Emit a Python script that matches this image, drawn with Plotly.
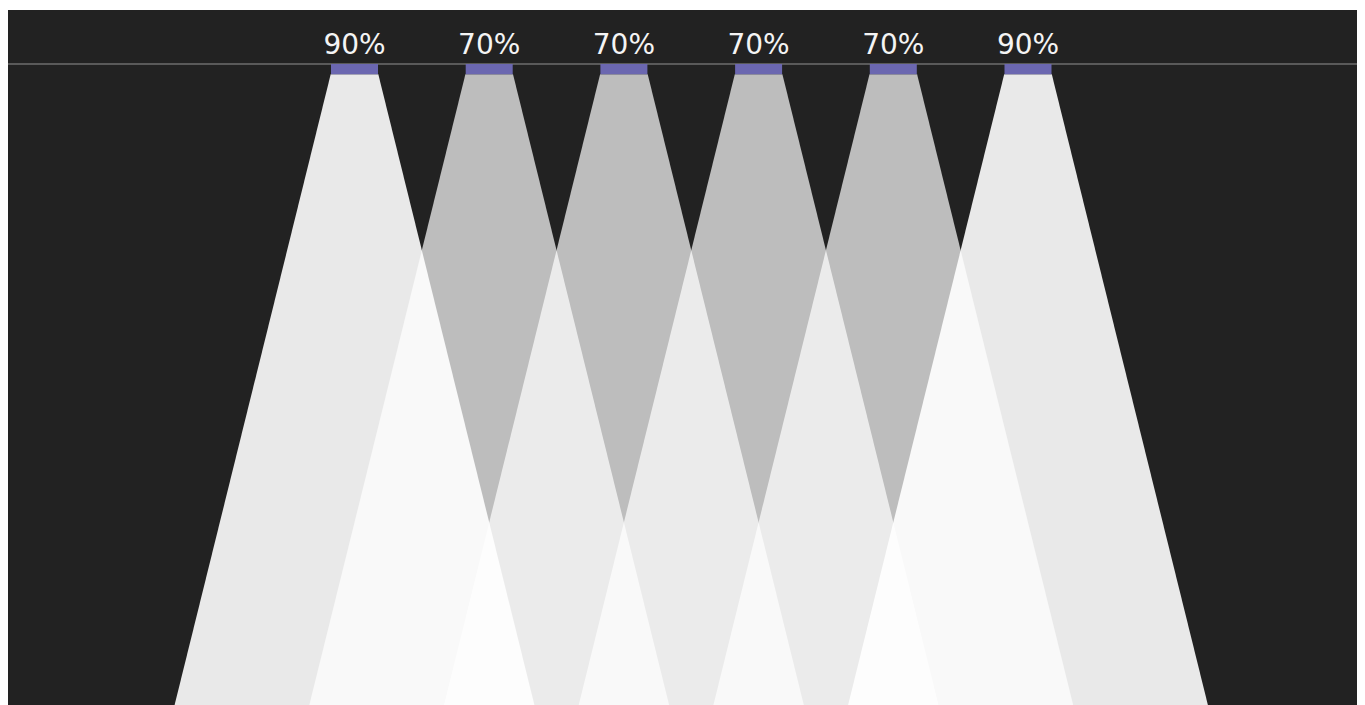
import plotly.graph_objects as go

# ---- data ----
lamp_labels = ["90%", "70%", "70%", "70%", "70%", "90%"]
lamp_efficiency = [0.9, 0.7, 0.7, 0.7, 0.7, 0.9]
lamp_positions = [1, 2, 3, 4, 5, 6]

# ---- geometry / style constants ----
W, H = 1400, 740
TOP_GAP = 2                # white strip above the dark area
PX = 134.7                 # pixels per unit (lamp spacing)
CEIL_PX = 54               # ceiling line distance from plot-area top (px)
PH = H - TOP_GAP
X0 = lamp_positions[0] - 346.5 / PX
X1 = X0 + W / PX
Y1 = CEIL_PX / PX
Y0 = -(PH - CEIL_PX) / PX
LAMP_H = 10.3 / PX
LAMP_HW = 23.5 / PX
CONE_HW = 23.8 / PX
SLOPE = 0.2475
FLOOR = Y0 - 0.5
LABEL_Y = 17.5 / PX

BG = "#222222"
LAMP_COLOR = "#6b67b0"
LINE_COLOR = "#5a5a5a"

fig = go.Figure()

# light cones
for x, eff in zip(lamp_positions, lamp_efficiency):
    top = -LAMP_H
    depth = top - FLOOR
    xs = [x - CONE_HW, x + CONE_HW, x + CONE_HW + SLOPE * depth, x - CONE_HW - SLOPE * depth, x - CONE_HW]
    ys = [top, top, FLOOR, FLOOR, top]
    fig.add_trace(go.Scatter(x=xs, y=ys, mode="lines", fill="toself",
                             fillcolor=f"rgba(255,255,255,{eff})",
                             line=dict(width=0), hoverinfo="skip", showlegend=False))

# ceiling line
fig.add_trace(go.Scatter(x=[X0, X1], y=[0, 0], mode="lines",
                         line=dict(color=LINE_COLOR, width=2),
                         hoverinfo="skip", showlegend=False))

# lamps
for x in lamp_positions:
    fig.add_trace(go.Scatter(x=[x - LAMP_HW, x + LAMP_HW, x + LAMP_HW, x - LAMP_HW, x - LAMP_HW],
                             y=[0, 0, -LAMP_H, -LAMP_H, 0], mode="lines", fill="toself",
                             fillcolor=LAMP_COLOR, line=dict(width=0),
                             hoverinfo="skip", showlegend=False))

# labels
fig.add_trace(go.Scatter(x=lamp_positions, y=[LABEL_Y] * len(lamp_positions), mode="text",
                         text=lamp_labels, textposition="middle center",
                         textfont=dict(family="DejaVu Sans", size=28, color="#f4f4f4"),
                         hoverinfo="skip", showlegend=False))

fig.update_layout(
    width=W, height=H,
    margin=dict(l=0, r=0, t=TOP_GAP, b=0, pad=0),
    paper_bgcolor="#ffffff", plot_bgcolor=BG,
    xaxis=dict(range=[X0, X1], visible=False, fixedrange=True),
    yaxis=dict(range=[Y0, Y1], visible=False, fixedrange=True),
    showlegend=False,
)

fig.write_html("out.html")
